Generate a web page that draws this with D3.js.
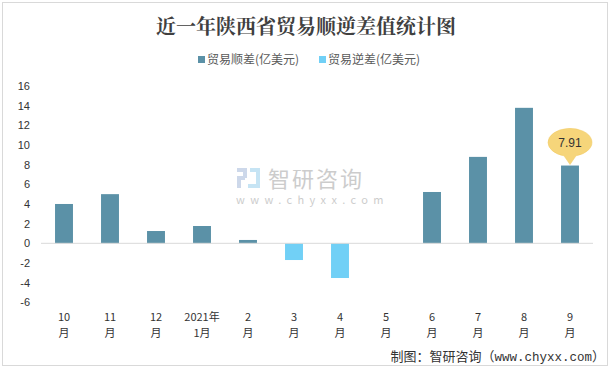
<!DOCTYPE html>
<html><head><meta charset="utf-8">
<script src="https://cdn.jsdelivr.net/npm/d3@7"></script>
<style>body{margin:0;background:#fff}svg{display:block}text{font-family:"Noto Sans CJK SC","Microsoft YaHei",sans-serif}</style>
</head><body>
<svg id="c" width="612" height="369"></svg>
<script>
const categoriesLine1 = ["10","11","12","2021年","2","3","4","5","6","7","8","9"];
const categoriesLine2 = ["月","月","月","1月","月","月","月","月","月","月","月","月"];
const balance = [4.0, 5.0, 1.25, 1.76, 0.34, -1.70, -3.53, 0, 5.22, 8.79, 13.78, 7.91];
const yTicks = [-6,-4,-2,0,2,4,6,8,10,12,14,16];
const seriesNames = ["贸易顺差(亿美元)","贸易逆差(亿美元)"];
const colors = ["#5B91A7","#71D0F6"];

(function(){
const svg = d3.select("#c");
svg.append("rect").attr("x",2.5).attr("y",2.5).attr("width",605).attr("height",363)
  .attr("fill","#fff").attr("stroke","#D9D9D9");

const x = d3.scaleBand().domain(d3.range(balance.length)).range([41,593]).paddingInner(0.61).paddingOuter(0.305);
const y = d3.scaleLinear().domain([-6,16]).range([302.3,86]);

// title
svg.append("text").attr("x",306).attr("y",34).attr("text-anchor","middle")
  .attr("font-size",20).attr("font-weight","bold").attr("fill","#404040")
  .style("font-family","'Noto Serif CJK SC','Noto Sans CJK SC',serif")
  .text("近一年陕西省贸易顺逆差值统计图");

// legend
const lg = [{x:198,t:seriesNames[0],c:colors[0]},{x:319,t:seriesNames[1],c:colors[1]}];
lg.forEach(d=>{
  svg.append("rect").attr("x",d.x).attr("y",56).attr("width",7).attr("height",7).attr("fill",d.c);
  svg.append("text").attr("x",d.x+9).attr("y",64).attr("font-size",12).attr("fill","#595959").text(d.t);
});

// watermark
const wm = svg.append("g").attr("opacity",0.5);
wm.append("rect").attr("x",237).attr("y",168).attr("width",10).attr("height",4).attr("fill","#9DB3D6");
wm.append("rect").attr("x",243).attr("y",168).attr("width",4).attr("height",10).attr("fill","#9DB3D6");
wm.append("rect").attr("x",237).attr("y",176).attr("width",8).attr("height",4).attr("fill","#9DB3D6");
wm.append("rect").attr("x",237).attr("y",176).attr("width",4).attr("height",12).attr("fill","#9DB3D6");
wm.append("rect").attr("x",250).attr("y",168).attr("width",10).attr("height",4).attr("fill","#8FCBEA");
wm.append("rect").attr("x",256).attr("y",168).attr("width",4).attr("height",20).attr("fill","#8FCBEA");
wm.append("rect").attr("x",248).attr("y",184).attr("width",12).attr("height",4).attr("fill","#8FCBEA");
wm.append("text").attr("x",268).attr("y",187).attr("font-size",22).attr("fill","#9a9a9a").attr("letter-spacing",2).text("智研咨询");
wm.append("text").attr("x",236).attr("y",204).attr("font-size",11).attr("fill","#9a9a9a")
  .attr("letter-spacing",5.4).text("www.chyxx.com");

// y axis labels
svg.append("g").selectAll("text").data(yTicks).join("text")
  .attr("x",30).attr("y",d=>y(d)+4).attr("text-anchor","end")
  .attr("font-size",11).attr("fill","#333").style("font-family","'Liberation Sans',Arial,sans-serif")
  .text(d=>d);

// bars
svg.append("g").selectAll("rect").data(balance).join("rect")
  .attr("x",(d,i)=>x(i)).attr("width",x.bandwidth())
  .attr("y",d=>y(Math.max(0,d))).attr("height",d=>Math.abs(y(d)-y(0)))
  .attr("fill",d=>d>=0?colors[0]:colors[1]);

// zero line
svg.append("line").attr("x1",41).attr("x2",593).attr("y1",y(0)).attr("y2",y(0))
  .attr("stroke","#D9D9D9").attr("stroke-width",1);

// x labels
const xl = svg.append("g");
categoriesLine1.forEach((c,i)=>{
  const cx = x(i)+x.bandwidth()/2;
  xl.append("text").attr("x",cx).attr("y",321).attr("text-anchor","middle").attr("font-size",11).attr("fill","#333").text(c);
  xl.append("text").attr("x",cx).attr("y",337).attr("text-anchor","middle").attr("font-size",11).attr("fill","#333").text(categoriesLine2[i]);
});

// callout for last bar
const li = balance.length-1;
const cx = x(li)+x.bandwidth()/2, barTop = y(balance[li]);
const cy = barTop-23;
const call = svg.append("g");
call.append("path").attr("d",`M${cx-22},${cy} A22,14 0 1,1 ${cx+6},${cy+13.3} L${cx},${barTop-1} L${cx-6},${cy+13.3} A22,14 0 0,1 ${cx-22},${cy} Z`)
  .attr("fill","#F6D57A").attr("stroke","#F0C85E").attr("stroke-width",0.5);
call.append("text").attr("x",cx).attr("y",cy+4).attr("text-anchor","middle").attr("font-size",12).attr("fill","#333")
  .style("font-family","'Liberation Sans',Arial,sans-serif").text(balance[li].toFixed(2));

// source
const src = svg.append("text").attr("x",605).attr("y",361).attr("text-anchor","end").attr("font-size",13).attr("fill","#333");
src.append("tspan").text("制图：智研咨询（");
src.append("tspan").style("font-family","'Liberation Mono','DejaVu Sans Mono',monospace").attr("font-size",12.5).text("www.chyxx.com");
src.append("tspan").text("）");
})();
</script>
</body></html>
